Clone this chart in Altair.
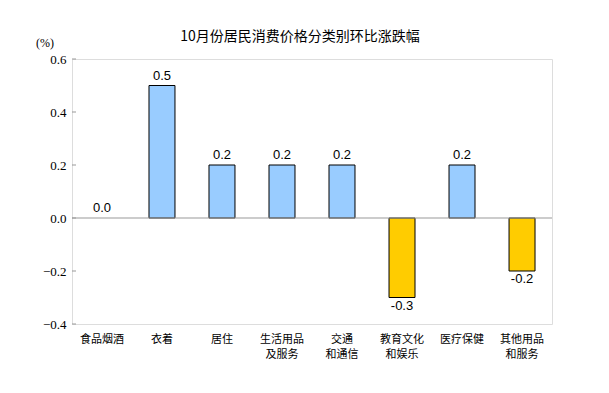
import altair as alt
import pandas as pd

title_text = "10月份居民消费价格分类别环比涨跌幅"
categories = ["食品烟酒", "衣着", "居住", "生活用品|及服务", "交通|和通信", "教育文化|和娱乐", "医疗保健", "其他用品|和服务"]
values = [0.0, 0.5, 0.2, 0.2, 0.2, -0.3, 0.2, -0.2]
y_ticks = [-0.4, -0.2, 0.0, 0.2, 0.4, 0.6]

df = pd.DataFrame({"cat": categories, "val": values})
df["lab"] = df["val"].map(lambda v: f"{v:.1f}")
df["color"] = ["#99CCFF" if v >= 0 else "#FFCC00" for v in values]
ticks_df = pd.DataFrame({"t": y_ticks})

SERIF = "'Times New Roman', 'Liberation Serif', serif"

yscale = alt.Scale(domain=[-0.4, 0.6], nice=False, zero=False)
xscale = alt.Scale(domain=categories, paddingInner=0.567, paddingOuter=0.283)
xenc = alt.X("cat:N", sort=categories, scale=xscale,
             axis=alt.Axis(title=None, labelAngle=0, ticks=False, domain=False,
                           labelExpr="split(datum.label, '|')", labelFont="Noto Sans CJK SC",
                           labelFontSize=11, labelColor="#000", labelPadding=9, labelLineHeight=15))

base = alt.Chart(df)

bars = base.mark_bar(stroke="#000").encode(
    x=xenc,
    y=alt.Y("val:Q", scale=yscale,
            axis=alt.Axis(title=None, values=y_ticks, format=".1f", grid=False, ticks=False,
                          domain=False, labelFont=SERIF, labelFontSize=13,
                          labelColor="#000", labelPadding=6)),
    color=alt.Color("color:N", scale=None),
    strokeWidth=alt.condition("datum.val == 0", alt.value(0), alt.value(1)),
)

zero = alt.Chart(pd.DataFrame({"z": [0.0]})).mark_rule(color="#999999", strokeWidth=1).encode(
    y=alt.Y("z:Q", scale=yscale))

tickmarks = alt.Chart(ticks_df).mark_rule(color="#999999", strokeWidth=1).encode(
    x=alt.value(0), x2=alt.value(4), y=alt.Y("t:Q", scale=yscale))

pos_text = base.transform_filter("datum.val >= 0").mark_text(
    baseline="bottom", dy=-3, font="Liberation Sans", fontSize=13, color="#000").encode(
    x=alt.X("cat:N", sort=categories, scale=xscale), y=alt.Y("val:Q", scale=yscale), text="lab:N")

neg_text = base.transform_filter("datum.val < 0").mark_text(
    baseline="top", dy=2, font="Liberation Sans", fontSize=13, color="#000").encode(
    x=alt.X("cat:N", sort=categories, scale=xscale), y=alt.Y("val:Q", scale=yscale), text="lab:N")

unit = alt.Chart(pd.DataFrame({"u": ["(%)"]})).mark_text(
    font=SERIF, fontSize=12, color="#000", align="center", baseline="middle").encode(
    x=alt.value(-27), y=alt.value(-16), text="u:N")

title = alt.Chart(pd.DataFrame({"t": [title_text]})).mark_text(
    font="Noto Sans CJK SC", fontSize=14, color="#000", align="center", baseline="middle").encode(
    x=alt.value(228), y=alt.value(-22), text="t:N")

chart = alt.layer(bars, zero, tickmarks, pos_text, neg_text, unit, title).properties(
    width=480, height=265,
    autosize=alt.AutoSizeParams(type="none"),
    padding={"left": 64, "top": 51, "right": 49, "bottom": 61},
).configure_view(stroke="#999999", strokeWidth=1.5).configure(background="white")

chart.save("out.html", embed_options={"renderer": "svg", "actions": False})
